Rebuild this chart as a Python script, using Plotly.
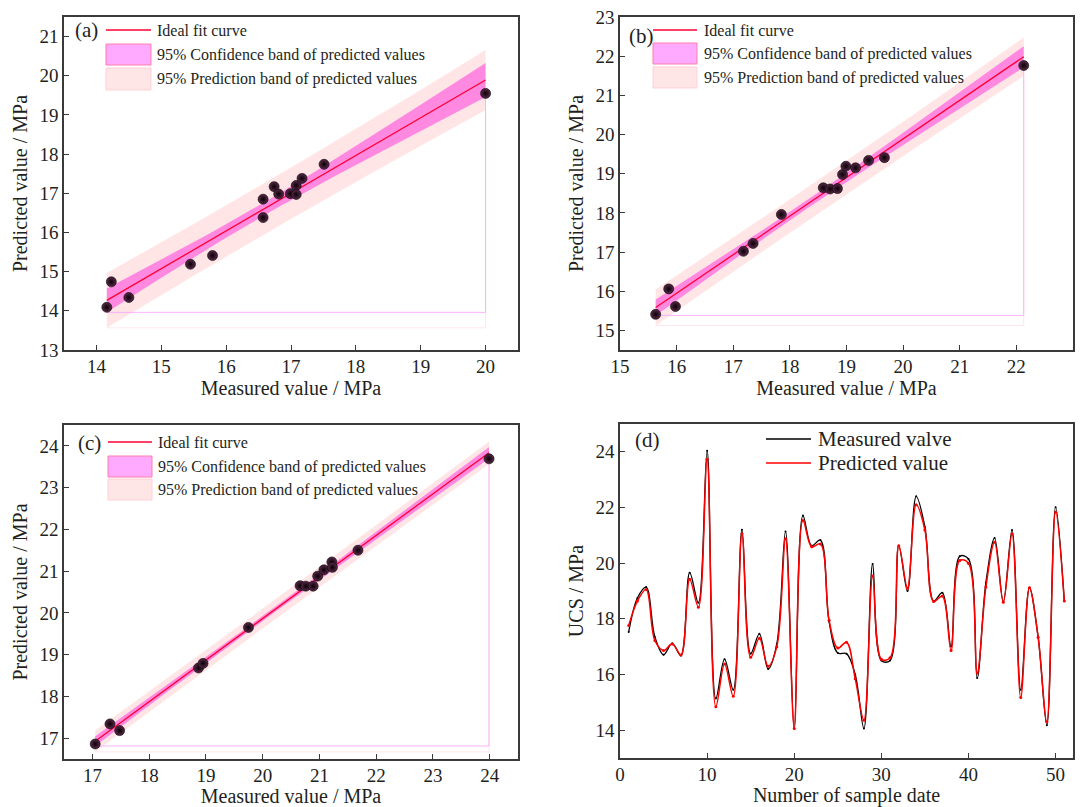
import numpy as np
import plotly.graph_objects as go

# ---------------- data ----------------
a_meas = [14.16, 14.23, 14.50, 15.45, 15.79, 16.57, 16.57, 16.74, 16.81, 16.99, 17.08, 17.08, 17.17, 17.51, 20.00]
a_pred = [14.09, 14.74, 14.34, 15.19, 15.41, 16.85, 16.38, 17.17, 16.98, 16.99, 17.20, 16.97, 17.38, 17.74, 19.55]

b_meas = [15.63, 15.86, 15.98, 17.18, 17.35, 17.85, 18.59, 18.71, 18.84, 18.93, 18.99, 19.16, 19.39, 19.67, 22.13]
b_pred = [15.41, 16.06, 15.61, 17.02, 17.22, 17.96, 18.64, 18.61, 18.62, 18.98, 19.19, 19.15, 19.34, 19.41, 21.76]

c_meas = [17.05, 17.31, 17.48, 18.87, 18.95, 19.75, 20.66, 20.76, 20.89, 20.97, 21.08, 21.22, 21.23, 21.68, 23.99]
c_pred = [16.86, 17.34, 17.18, 18.68, 18.79, 19.65, 20.65, 20.64, 20.64, 20.88, 21.03, 21.22, 21.09, 21.50, 23.69]

d_sample = list(range(1, 52))
d_meas = [17.53, 18.75, 19.14, 17.35, 16.71, 17.12, 16.68, 19.66, 18.58, 24.04,
          15.14, 16.55, 15.45, 21.20, 16.75, 17.46, 16.20, 17.10, 21.14, 14.06,
          21.71, 20.63, 20.83, 17.90, 16.77, 16.75, 16.00, 14.06, 19.97, 16.50,
          16.50, 20.63, 19.00, 22.40, 21.30, 18.64, 18.94, 17.01, 20.25, 20.15,
          15.87, 19.30, 20.90, 18.61, 21.19, 15.45, 19.12, 17.34, 14.18, 22.01, 18.64]
d_pred = [17.76, 18.64, 19.05, 17.22, 16.86, 17.10, 16.70, 19.42, 18.42, 23.73,
          14.84, 16.38, 15.22, 21.06, 16.62, 17.30, 16.30, 17.00, 20.88, 14.06,
          21.53, 20.59, 20.69, 17.95, 16.95, 17.16, 15.85, 14.36, 19.54, 16.55,
          16.60, 20.63, 19.10, 22.10, 21.19, 18.62, 18.82, 16.86, 20.10, 20.00,
          16.05, 19.14, 20.75, 18.60, 21.05, 15.17, 19.12, 17.34, 14.30, 21.83, 18.64]

T_CRIT = 2.1604  # Student t, 0.975 quantile, 13 degrees of freedom

FONT = '"Liberation Serif", "Times New Roman", Times, serif'
TXT = "#231f20"
AXC = "#3a3a3a"
FIT_C = "#ff0033"
CONF_FILL = "rgba(255,60,220,0.55)"
PRED_FILL = "rgba(255,170,170,0.30)"

# panel pixel boxes (x0, x1, y0, y1)
W, H = 1082, 807
PANELS = {
    "a": (64, 518, 17, 350),
    "b": (620, 1073, 17, 350),
    "c": (64, 518, 425, 759),
    "d": (620, 1073, 424, 758),
}


def xdom(p):
    x0, x1, _, _ = PANELS[p]
    return [x0 / W, x1 / W]


def ydom(p):
    _, _, y0, y1 = PANELS[p]
    return [1 - y1 / H, 1 - y0 / H]


def fx(p, px):
    x0, x1, _, _ = PANELS[p]
    return (px - x0) / (x1 - x0)


def fy(p, py):
    _, _, y0, y1 = PANELS[p]
    return 1 - (py - y0) / (y1 - y0)


def regression(xv, yv):
    x = np.asarray(xv, float)
    y = np.asarray(yv, float)
    n = len(x)
    k, b = np.polyfit(x, y, 1)
    res = y - (k * x + b)
    s = np.sqrt(np.sum(res ** 2) / (n - 2))
    xm = x.mean()
    sxx = np.sum((x - xm) ** 2)
    xs = np.linspace(x.min(), x.max(), 120)
    yh = k * xs + b
    ci = T_CRIT * s * np.sqrt(1.0 / n + (xs - xm) ** 2 / sxx)
    pi = T_CRIT * s * np.sqrt(1.0 + 1.0 / n + (xs - xm) ** 2 / sxx)
    return xs, yh, yh - ci, yh + ci, yh - pi, yh + pi


fig = go.Figure()

axis_common = dict(showline=True, linecolor=AXC, linewidth=1.6, mirror=True,
                   ticks="inside", ticklen=5, tickwidth=1.2, tickcolor=AXC,
                   showgrid=False, zeroline=False, automargin=False,
                   tickfont=dict(family=FONT, size=19, color=TXT),
                   title_font=dict(family=FONT, size=20, color=TXT))

scatter_panels = [
    ("a", "x", "y", a_meas, a_pred, [13.5, 20.5], [13, 21.5], 1, 1),
    ("b", "x2", "y2", b_meas, b_pred, [15, 23], [14.5, 23], 1, 1),
    ("c", "x3", "y3", c_meas, c_pred, [16.5, 24.5], [16.5, 24.5], 1, 1),
]

layout_axes = {}
for i, (p, xa, ya, xm, yp, xr, yr, dx, dy) in enumerate(scatter_panels):
    xs, yh, clo, chi, plo, phi = regression(xm, yp)
    # prediction band
    fig.add_trace(go.Scatter(x=np.concatenate([xs, xs[::-1]]), y=np.concatenate([phi, plo[::-1]]),
                             fill="toself", fillcolor=PRED_FILL, line=dict(width=0),
                             mode="lines", hoverinfo="skip", showlegend=False, xaxis=xa, yaxis=ya))
    # confidence band
    fig.add_trace(go.Scatter(x=np.concatenate([xs, xs[::-1]]), y=np.concatenate([chi, clo[::-1]]),
                             fill="toself", fillcolor=CONF_FILL, line=dict(width=0),
                             mode="lines", hoverinfo="skip", showlegend=False, xaxis=xa, yaxis=ya))
    # baseline artefacts of the band fills
    fig.add_trace(go.Scatter(x=[xs[0], xs[-1], xs[-1]], y=[plo[0], plo[0], plo[-1]],
                             mode="lines", line=dict(color="rgba(255,215,230,0.6)", width=1),
                             hoverinfo="skip", showlegend=False, xaxis=xa, yaxis=ya))
    fig.add_trace(go.Scatter(x=[xs[0], xs[-1], xs[-1]], y=[clo[0], clo[0], clo[-1]],
                             mode="lines", line=dict(color="rgba(250,170,250,0.9)", width=1),
                             hoverinfo="skip", showlegend=False, xaxis=xa, yaxis=ya))
    # fit line
    fig.add_trace(go.Scatter(x=xs, y=yh, mode="lines", line=dict(color=FIT_C, width=1.3),
                             hoverinfo="skip", showlegend=False, xaxis=xa, yaxis=ya))
    # points
    fig.add_trace(go.Scatter(x=xm, y=yp, mode="markers",
                             marker=dict(size=10, color="#5a2a4a",
                                         gradient=dict(type="radial", color="#080003"),
                                         line=dict(color="#000000", width=0.6)),
                             showlegend=False, xaxis=xa, yaxis=ya))
    xkey = "xaxis" if i == 0 else f"xaxis{i + 1}"
    ykey = "yaxis" if i == 0 else f"yaxis{i + 1}"
    layout_axes[xkey] = dict(axis_common, domain=xdom(p), range=xr, dtick=dx, anchor=ya,
                             ticklabelstandoff=-2,
                             title=dict(text="Measured value / MPa", standoff=4))
    layout_axes[ykey] = dict(axis_common, domain=ydom(p), range=yr, dtick=dy, anchor=xa,
                             title=dict(text="Predicted value / MPa", standoff=6))

# panel d
fig.add_trace(go.Scatter(x=d_sample, y=d_meas, mode="lines+markers", line=dict(color="#000000", width=1.3, shape="spline"),
                         marker=dict(size=2, color="#000000"), showlegend=False, xaxis="x4", yaxis="y4"))
fig.add_trace(go.Scatter(x=d_sample, y=d_pred, mode="lines+markers", line=dict(color="#ff0000", width=1.5, shape="spline"),
                         marker=dict(size=3, color="#ff0000"), showlegend=False, xaxis="x4", yaxis="y4"))
layout_axes["xaxis4"] = dict(axis_common, domain=xdom("d"), range=[0, 52], dtick=10, anchor="y4",
                             ticklabelstandoff=-2,
                             title=dict(text="Number of sample date", standoff=4))
layout_axes["yaxis4"] = dict(axis_common, domain=ydom("d"), range=[13, 25], dtick=2, anchor="x4",
                             title=dict(text="UCS / MPa", standoff=6))

fig.update_layout(width=W, height=H, margin=dict(l=0, r=0, t=0, b=0, autoexpand=False),
                  paper_bgcolor="white", plot_bgcolor="white", showlegend=False,
                  font=dict(family=FONT, color=TXT), **layout_axes)

shapes = []
annotations = []

# legends of panels a-c (pixel positions)
leg = {
    # panel: (label_x, label_y, sample_x0, sample_x1, line_y, conf_y0, conf_y1, pred_y0, pred_y1, text_x)
    "a": (73, 30, 106, 151, 30, 44, 65, 68, 90, 155),
    "b": (627, 36, 653, 697, 30, 43, 64, 67, 88, 702),
    "c": (76, 443, 108, 152, 442, 456, 477, 479, 500, 156),
}
refs = {"a": ("x domain", "y domain"), "b": ("x2 domain", "y2 domain"), "c": ("x3 domain", "y3 domain"),
        "d": ("x4 domain", "y4 domain")}
for p, (lx, ly, s0, s1, liy, c0, c1, p0, p1, tx) in leg.items():
    xr_, yr_ = refs[p]
    annotations.append(dict(x=fx(p, lx), y=fy(p, ly), xref=xr_, yref=yr_, text=f"({p})", showarrow=False,
                            xanchor="left", yanchor="middle", font=dict(family=FONT, size=21, color=TXT)))
    shapes.append(dict(type="line", xref=xr_, yref=yr_, x0=fx(p, s0), x1=fx(p, s1), y0=fy(p, liy), y1=fy(p, liy),
                       line=dict(color=FIT_C, width=1.6)))
    shapes.append(dict(type="rect", xref=xr_, yref=yr_, x0=fx(p, s0), x1=fx(p, s1), y0=fy(p, c1), y1=fy(p, c0),
                       fillcolor="#ffaaff", line=dict(color="#ff7fa8", width=1)))
    shapes.append(dict(type="rect", xref=xr_, yref=yr_, x0=fx(p, s0), x1=fx(p, s1), y0=fy(p, p1), y1=fy(p, p0),
                       fillcolor="#ffe6e6", line=dict(color="#ffd0d8", width=1)))
    for txt, ty in (("Ideal fit curve", liy), ("95% Confidence band of predicted values", (c0 + c1) / 2),
                    ("95% Prediction band of predicted values", (p0 + p1) / 2)):
        annotations.append(dict(x=fx(p, tx), y=fy(p, ty), xref=xr_, yref=yr_, text=txt, showarrow=False,
                                xanchor="left", yanchor="middle", font=dict(family=FONT, size=16, color=TXT)))

# legend of panel d
xr_, yr_ = refs["d"]
annotations.append(dict(x=fx("d", 633), y=fy("d", 440), xref=xr_, yref=yr_, text="(d)", showarrow=False,
                        xanchor="left", yanchor="middle", font=dict(family=FONT, size=21, color=TXT)))
for txt, col, ly in (("Measured valve", "#000000", 439), ("Predicted value", "#ff0000", 463)):
    shapes.append(dict(type="line", xref=xr_, yref=yr_, x0=fx("d", 766), x1=fx("d", 811), y0=fy("d", ly), y1=fy("d", ly),
                       line=dict(color=col, width=1.5)))
    annotations.append(dict(x=fx("d", 816), y=fy("d", ly), xref=xr_, yref=yr_, text=txt, showarrow=False,
                            xanchor="left", yanchor="middle", font=dict(family=FONT, size=21, color=TXT)))

fig.update_layout(shapes=shapes, annotations=annotations)
fig.write_html("out.html", config={"displayModeBar": False},
               post_script="document.body.style.margin='0px';document.body.style.overflow='hidden';")
